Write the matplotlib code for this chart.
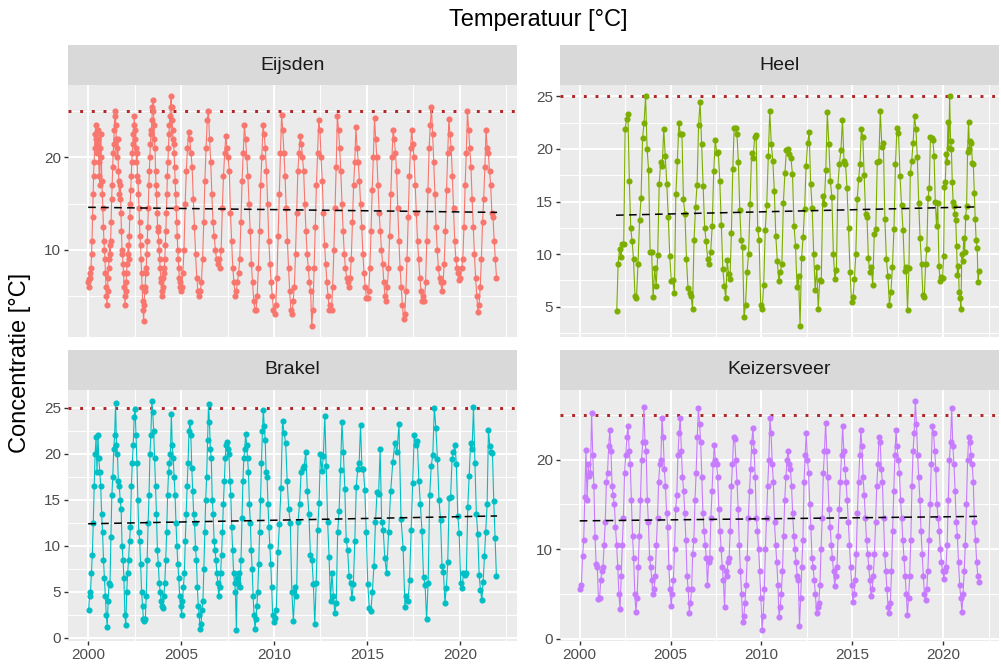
import numpy as np
import matplotlib.pyplot as plt
from matplotlib.ticker import MultipleLocator

plt.rcParams['font.family'] = ['Liberation Sans', 'DejaVu Sans']

stations = ['Eijsden', 'Heel', 'Brakel', 'Keizersveer']
colors = ['#F8766D', '#7CAE00', '#00BFC4', '#C77CFF']

# temperature readings per year (evenly spread within the year)
eijsden = {
    2000: [6.5, 6.0, 6.8, 7.5, 7.0, 8.0, 9.5, 11.0, 13.5, 16.0, 18.0, 19.5, 21.0, 22.5, 23.5, 22.0, 20.5, 21.5,
           23.0, 22.0, 19.5, 18.0, 17.0, 21.0, 22.5, 20.0, 17.5, 16.0, 14.5, 12.5, 11.0, 10.0, 9.0, 7.5, 6.0, 5.0],
    2001: [4.0, 5.5, 7.0, 8.0, 9.0, 10.5, 9.5, 11.0, 13.0, 15.5, 17.0, 19.0, 20.5, 21.5, 23.0, 24.5, 25.0, 23.5,
           22.0, 21.0, 20.0, 22.0, 18.5, 17.5, 16.0, 15.5, 17.0, 14.0, 12.0, 10.0, 9.5, 8.5, 7.5, 6.0, 5.0, 4.0],
    2002: [5.5, 6.5, 7.5, 8.5, 9.5, 10.5, 9.0, 11.5, 13.5, 15.0, 16.5, 18.0, 19.5, 20.5, 21.5, 22.5, 23.5, 24.5,
           23.0, 22.0, 21.0, 19.5, 20.5, 18.0, 17.5, 16.0, 14.5, 13.0, 11.5, 10.5, 9.0, 7.5, 6.0, 4.5, 3.5, 2.3],
    2003: [4.0, 5.5, 6.0, 7.5, 8.0, 9.5, 11.0, 12.5, 14.5, 17.0, 18.5, 20.0, 21.5, 22.5, 23.0, 24.0, 25.5, 26.2,
           25.0, 23.5, 22.0, 21.0, 18.5, 17.0, 16.0, 14.0, 12.5, 12.0, 11.0, 10.0, 9.0, 8.0, 7.0, 6.5, 5.5, 5.0],
    2004: [6.0, 7.0, 7.5, 8.0, 9.0, 10.5, 12.0, 14.0, 16.0, 18.0, 19.5, 21.0, 22.5, 23.5, 24.5, 25.5, 26.6, 25.5,
           24.0, 23.0, 22.0, 21.5, 20.5, 19.0, 17.5, 16.0, 14.5, 13.0, 11.5, 10.0, 9.0, 8.0, 7.0, 6.5, 6.0, 5.5],
    2005: [6.0, 7.5, 10.0, 15.0, 18.5, 21.0, 22.7, 22.0, 20.5, 19.0, 15.5, 12.5, 9.5, 7.0, 5.5, 5.0],
    2006: [5.5, 6.5, 9.0, 13.0, 17.5, 21.0, 24.0, 25.0, 22.0, 19.5, 16.0, 13.0, 11.5, 10.0, 9.0, 8.5],
    2007: [9.0, 8.0, 10.0, 14.5, 18.0, 20.5, 22.3, 21.0, 20.0, 18.5, 14.0, 11.0, 8.0, 6.5, 5.0, 5.5],
    2008: [6.5, 7.5, 9.0, 13.0, 17.5, 20.5, 23.5, 22.0, 20.0, 18.0, 15.0, 12.0, 8.5, 6.5, 4.5, 3.5],
    2009: [3.5, 5.0, 8.0, 12.0, 17.0, 20.0, 23.5, 22.5, 21.0, 18.5, 15.0, 11.0, 8.5, 6.5, 5.0, 3.5],
    2010: [3.0, 4.0, 7.0, 11.5, 16.0, 20.5, 24.6, 23.0, 20.5, 18.0, 14.5, 11.0, 8.0, 5.5, 3.5, 3.0],
    2011: [4.5, 6.0, 9.5, 14.0, 18.5, 20.5, 22.3, 21.5, 20.0, 18.5, 15.0, 12.0, 9.5, 8.0, 6.5, 5.5],
    2012: [1.8, 3.5, 8.0, 12.5, 17.0, 20.5, 24.0, 23.0, 20.0, 17.5, 14.0, 10.5, 8.5, 6.5, 5.0, 3.5],
    2013: [4.0, 3.5, 6.0, 10.0, 14.5, 19.0, 24.5, 23.0, 21.0, 18.5, 15.0, 12.0, 9.5, 8.0, 7.0, 6.5],
    2014: [6.0, 7.0, 9.0, 13.0, 17.0, 19.5, 23.3, 21.0, 19.5, 17.5, 15.0, 12.5, 9.5, 7.5, 6.0, 4.8],
    2015: [4.8, 5.5, 8.0, 12.0, 16.5, 20.0, 24.3, 22.0, 20.0, 17.0, 14.0, 12.0, 10.0, 8.5, 6.5, 5.0],
    2016: [4.5, 6.0, 8.0, 11.5, 16.0, 20.0, 23.0, 22.0, 20.5, 18.5, 14.5, 11.0, 8.0, 6.0, 4.0, 2.5],
    2017: [3.0, 5.5, 9.0, 13.5, 18.0, 21.0, 23.0, 21.5, 20.0, 17.0, 14.0, 11.0, 9.0, 7.0, 5.5, 4.5],
    2018: [5.0, 4.5, 6.5, 11.0, 16.5, 21.0, 23.5, 25.5, 22.5, 19.5, 16.0, 12.5, 10.0, 8.0, 7.0, 6.5],
    2019: [5.5, 6.5, 8.5, 12.0, 16.5, 20.5, 24.2, 22.5, 21.0, 18.0, 14.5, 11.0, 9.0, 8.0, 7.5, 6.7],
    2020: [7.0, 8.0, 9.0, 12.5, 17.0, 20.5, 25.0, 23.0, 21.0, 19.0, 15.5, 12.5, 9.5, 7.0, 5.0, 3.3],
    2021: [4.0, 6.0, 9.0, 13.0, 15.5, 19.0, 23.0, 21.0, 20.5, 18.5, 17.0, 14.0, 13.5, 11.0, 9.0, 7.0],
}

heel = {
    2002: [4.6, 9.1, 10.5, 9.7, 11.0, 11.0, 21.9, 22.9, 23.3, 17.0, 12.5, 11.2, 9.5],
    2003: [6.0, 5.8, 9.1, 13.2, 15.3, 21.0, 22.5, 25.0, 20.0, 18.0, 10.2, 10.2],
    2004: [5.9, 8.7, 7.0, 9.9, 16.7, 18.8, 18.4, 21.9, 19.3, 16.7, 13.5, 9.8],
    2005: [7.4, 7.5, 6.3, 15.7, 18.9, 22.5, 21.4, 21.4, 15.2, 13.8, 9.5, 6.8],
    2006: [6.3, 6.0, 4.8, 11.3, 14.5, 16.6, 22.3, 24.5, 20.5, 16.5, 12.5, 11.2],
    2007: [9.5, 9.1, 10.2, 12.7, 17.9, 20.9, 19.6, 19.7, 17.0, 12.8, 8.6, 7.0],
    2008: [5.8, 9.4, 8.1, 7.6, 12.0, 18.1, 22.0, 22.0, 21.4, 18.8, 14.2, 11.3, 10.7],
    2009: [4.0, 5.2, 8.3, 10.0, 14.8, 19.6, 19.1, 21.1, 21.3, 12.4, 11.3, 5.2],
    2010: [4.8, 7.1, 12.3, 14.7, 19.3, 23.6, 20.5, 18.9, 16.0, 11.7, 9.3, 7.4],
    2011: [8.3, 9.1, 14.9, 17.7, 19.9, 20.0, 19.5, 19.1, 17.6, 12.7, 10.8, 6.9],
    2012: [7.9, 3.2, 9.6, 11.6, 14.3, 18.4, 20.6, 21.6, 16.7, 14.4, 10.0, 6.6],
    2013: [8.8, 4.8, 7.5, 7.4, 15.5, 14.8, 18.0, 23.5, 20.5, 17.0, 15.4, 10.0],
    2014: [7.6, 8.5, 16.5, 18.6, 19.9, 22.8, 18.9, 18.6, 16.3, 12.5, 8.3, 5.4],
    2015: [5.9, 7.6, 10.0, 15.2, 17.1, 18.6, 21.9, 21.1, 17.5, 13.8, 13.5, 9.6, 8.3],
    2016: [8.8, 7.1, 11.9, 12.4, 18.8, 18.9, 23.6, 20.2, 20.6, 13.3, 9.5, 7.9],
    2017: [5.2, 6.4, 8.8, 12.4, 18.6, 22.0, 21.5, 17.4, 14.7, 12.3, 8.4, 8.8],
    2018: [4.7, 8.7, 17.7, 18.9, 20.6, 23.1, 21.9, 19.2, 14.9, 11.5, 9.1, 6.1, 5.9],
    2019: [9.1, 10.5, 15.3, 16.3, 21.1, 21.0, 20.9, 19.3, 15.0, 12.7, 14.9, 8.9, 7.4, 7.8, 7.7],
    2020: [9.8, 16.4, 16.9, 19.5, 18.8, 22.6, 20.1, 25.0, 20.8, 20.0, 16.9, 15.0, 14.6, 13.8, 13.2, 10.8, 8.0,
           8.9, 6.4, 5.8, 4.8],
    2021: [10.0, 9.3, 11.5, 10.2, 13.5, 14.6, 19.7, 22.6, 20.0, 20.8, 20.6, 18.7, 18.6, 15.8, 13.3, 11.3, 10.6,
           7.3, 8.4],
}

brakel = {
    2000: [3.0, 4.5, 5.0, 7.0, 9.0, 12.5, 16.5, 20.0, 21.8, 18.0, 22.1, 19.5, 18.0, 16.5, 13.5, 11.5, 8.5, 6.5, 4.5, 2.5],
    2001: [1.2, 4.0, 6.0, 5.8, 11.0, 15.5, 17.5, 20.5, 22.0, 25.5, 21.0, 20.0, 17.0, 16.5, 15.0, 14.0, 10.0, 8.5, 6.5, 2.5],
    2002: [1.4, 5.0, 7.0, 8.5, 10.5, 12.0, 16.5, 19.0, 21.0, 24.0, 24.9, 22.0, 19.0, 15.0, 11.5, 10.5, 8.0, 5.0, 3.5, 2.0],
    2003: [1.8, 2.0, 4.5, 8.5, 12.5, 15.5, 20.0, 22.0, 25.7, 24.5, 22.5, 19.5, 16.5, 13.5, 9.5, 8.0, 6.0, 5.0, 4.0, 3.5],
    2004: [3.2, 4.5, 6.0, 8.5, 11.5, 15.5, 18.0, 19.0, 20.0, 24.3, 21.0, 19.5, 17.5, 15.5, 12.5, 10.0, 8.0, 6.5, 4.5, 3.5],
    2005: [2.5, 4.0, 5.5, 7.0, 10.5, 13.5, 16.5, 19.0, 22.5, 23.5, 22.0, 18.5, 16.0, 13.5, 12.5, 9.8, 8.5, 5.5, 3.5, 2.5],
    2006: [1.0, 1.5, 3.0, 4.0, 7.5, 11.5, 15.0, 17.5, 21.5, 25.4, 23.5, 20.5, 19.5, 15.0, 13.5, 10.5, 9.5, 8.5, 7.0, 6.0],
    2007: [4.5, 5.5, 7.0, 9.0, 11.5, 14.5, 17.0, 19.5, 21.0, 21.3, 20.5, 20.0, 17.0, 15.5, 12.0, 9.5, 7.0, 6.0, 5.0, 0.9],
    2008: [6.5, 6.0, 7.0, 5.5, 8.5, 13.0, 17.0, 19.5, 20.5, 22.2, 21.0, 19.5, 18.0, 14.5, 12.5, 9.5, 7.5, 4.5, 2.5, 1.0],
    2009: [2.0, 3.5, 5.0, 8.0, 11.5, 15.0, 19.0, 22.5, 24.8, 23.0, 21.5, 18.0, 17.5, 14.5, 12.0, 10.0, 8.0, 5.5, 2.5, 1.7],
    2010: [2.2, 3.0, 9.3, 12.4, 16.3, 23.6, 22.3, 21.2, 17.0, 14.0, 12.5, 5.0],
    2011: [1.8, 5.5, 4.5, 12.6, 14.6, 18.0, 18.5, 18.7, 20.2, 16.0, 13.5, 9.0],
    2012: [8.5, 5.9, 1.5, 6.0, 11.7, 14.7, 20.0, 18.1, 19.8, 24.1, 18.7, 12.6, 8.8],
    2013: [4.0, 7.1, 4.5, 2.7, 3.8, 11.5, 13.8, 18.2, 23.5, 20.2, 16.2, 10.6, 9.5],
    2014: [6.7, 6.0, 4.3, 5.9, 10.5, 16.4, 18.3, 19.0, 23.1, 18.3, 18.3, 16.1, 11.5],
    2015: [5.9, 3.2, 2.9, 5.0, 7.8, 12.6, 15.8, 15.6, 20.5, 12.6, 11.7, 8.7],
    2016: [7.1, 11.5, 16.0, 19.1, 21.2, 20.2, 23.2, 12.9, 9.8],
    2017: [3.4, 4.5, 4.0, 6.3, 11.7, 16.8, 22.0, 21.0, 21.4, 17.1, 14.5, 11.6],
    2018: [6.6, 5.8, 2.0, 6.0, 15.5, 18.7, 19.9, 25.0, 22.8, 19.4, 15.0, 12.8],
    2019: [7.8, 7.2, 3.8, 5.4, 8.2, 15.2, 15.3, 19.4, 20.2, 21.0, 18.9, 13.3, 11.4],
    2020: [6.0, 5.4, 7.0, 6.8, 7.0, 14.2, 17.6, 21.2, 20.5, 25.1, 19.0, 13.5, 11.3],
    2021: [6.8, 5.2, 4.1, 6.1, 8.9, 11.5, 14.5, 22.6, 20.9, 20.2, 20.1, 14.9, 10.9, 6.7],
}

keizersveer = {
    2000: [5.5, 6.0, 9.2, 11.0, 15.8, 21.1, 15.5, 19.5, 18.2, 18.5, 25.2, 20.5, 17.0, 11.3, 8.3, 8.0],
    2001: [4.4, 4.5, 6.5, 7.5, 8.0, 10.5, 13.0, 17.5, 18.5, 21.5, 23.3, 21.0, 17.0, 16.0, 15.0, 12.5],
    2002: [10.5, 8.0, 5.0, 3.3, 7.0, 10.5, 13.5, 18.5, 20.5, 22.5, 23.8, 21.0, 19.5, 15.5, 11.5, 9.0],
    2003: [5.0, 3.0, 4.5, 8.0, 11.5, 15.5, 20.0, 22.0, 25.9, 22.0, 21.0, 15.5, 13.0, 9.0, 8.0, 6.5],
    2004: [5.0, 5.5, 7.0, 10.5, 13.5, 17.5, 19.5, 20.0, 24.7, 22.5, 19.0, 17.0, 14.0, 12.5, 8.0, 5.5],
    2005: [3.6, 5.0, 6.5, 10.0, 14.5, 16.0, 20.5, 23.0, 24.7, 21.0, 18.0, 16.5, 14.0, 11.0, 7.0, 5.5],
    2006: [2.9, 4.0, 5.5, 9.5, 11.0, 15.5, 18.5, 22.5, 25.8, 24.0, 22.0, 18.0, 14.0, 12.0, 10.5, 9.0],
    2007: [6.0, 8.5, 9.0, 13.5, 16.5, 19.5, 21.6, 20.0, 19.5, 18.0, 14.5, 12.0, 10.0, 8.0, 6.5, 3.5],
    2008: [7.5, 7.0, 8.5, 9.0, 12.0, 17.0, 19.5, 22.5, 22.3, 20.0, 17.5, 14.5, 10.5, 7.5, 5.0, 1.9],
    2009: [2.5, 4.0, 6.0, 9.0, 13.5, 16.5, 19.0, 22.0, 23.5, 21.0, 18.0, 13.5, 12.0, 10.0, 7.5, 4.5],
    2010: [1.0, 2.5, 5.5, 10.0, 13.5, 17.0, 20.0, 24.6, 23.0, 19.5, 17.5, 13.0, 10.5, 8.5, 6.0, 2.4],
    2011: [3.5, 5.0, 7.5, 11.5, 15.5, 18.0, 20.0, 21.0, 19.5, 19.0, 17.0, 14.0, 11.5, 10.0, 8.5, 7.0],
    2012: [6.5, 1.4, 4.5, 8.0, 11.0, 17.5, 20.5, 23.0, 20.0, 18.5, 15.0, 12.5, 9.0, 8.0, 6.5, 5.0],
    2013: [2.8, 3.5, 4.0, 6.0, 10.0, 13.5, 18.5, 21.0, 24.1, 21.0, 18.0, 14.5, 12.5, 10.5, 9.0, 7.5],
    2014: [5.9, 7.0, 8.0, 11.5, 14.5, 17.5, 20.5, 23.7, 21.0, 19.0, 17.5, 15.5, 13.0, 10.5, 8.0, 6.0],
    2015: [4.1, 5.0, 6.5, 9.5, 14.0, 17.5, 20.5, 23.3, 21.5, 18.0, 16.0, 13.5, 11.0, 9.5, 8.0, 6.5],
    2016: [4.8, 5.5, 7.0, 9.5, 13.0, 17.0, 19.5, 22.5, 22.0, 19.0, 17.5, 13.5, 9.5, 7.5, 5.5, 3.5],
    2017: [2.9, 4.0, 7.5, 12.0, 16.5, 20.5, 23.3, 21.5, 20.0, 18.5, 15.5, 13.5, 11.0, 9.0, 7.0, 5.0],
    2018: [2.6, 4.5, 7.0, 11.0, 17.0, 21.0, 23.0, 26.5, 24.0, 20.5, 18.0, 15.5, 12.0, 9.5, 7.0, 5.0],
    2019: [4.3, 5.5, 7.5, 11.0, 15.0, 19.5, 23.8, 23.0, 21.0, 19.0, 15.0, 13.5, 12.0, 10.0, 8.5, 7.5],
    2020: [6.7, 7.5, 8.0, 10.5, 15.5, 20.0, 22.0, 25.8, 21.5, 19.5, 16.5, 13.0, 11.5, 8.5, 6.0, 4.5],
    2021: [3.0, 5.0, 7.5, 10.5, 15.0, 20.0, 22.5, 22.0, 20.5, 19.5, 17.5, 13.0, 11.0, 8.5, 7.0, 6.3],
}

# trend lines (start/end year, start/end value)
trend_years = {'Eijsden': (2000.0, 2022.0), 'Heel': (2002.0, 2022.0),
               'Brakel': (2000.0, 2022.0), 'Keizersveer': (2000.0, 2022.0)}
trend_vals = {'Eijsden': (14.6, 14.05), 'Heel': (13.7, 14.5),
              'Brakel': (12.4, 13.25), 'Keizersveer': (13.15, 13.65)}

norm = 25  # norm line
yticks = {'Eijsden': [10, 20], 'Heel': [5, 10, 15, 20, 25],
          'Brakel': [0, 5, 10, 15, 20, 25], 'Keizersveer': [0, 10, 20]}
ytick_minor = {'Eijsden': 5, 'Heel': 2.5, 'Brakel': 2.5, 'Keizersveer': 5}
xticks = [2000, 2005, 2010, 2015, 2020]

data = {'Eijsden': eijsden, 'Heel': heel, 'Brakel': brakel, 'Keizersveer': keizersveer}


def to_series(d):
    xs, ys = [], []
    for yr, vals in d.items():
        n = len(vals)
        for i, v in enumerate(vals):
            xs.append(yr + (i + 0.5) / n)
            ys.append(v)
    return np.array(xs), np.array(ys)


series = {s: to_series(data[s]) for s in stations}
allx = np.concatenate([series[s][0] for s in stations])
xr = allx.max() - allx.min()
xlim = (allx.min() - 0.05 * xr, allx.max() + 0.05 * xr)

W, H = 1001, 671
fig = plt.figure(figsize=(W / 100, H / 100), dpi=100)

# panel boxes in pixels: left, right, strip top, panel top, panel bottom
boxes = [(68, 517, 45, 85, 337), (560, 999, 45, 85, 337),
         (68, 517, 350, 390, 641), (560, 999, 350, 390, 641)]

for k, s in enumerate(stations):
    l, r, st, pt, pb = boxes[k]
    ax = fig.add_axes([l / W, 1 - pb / H, (r - l) / W, (pb - pt) / H])
    sax = fig.add_axes([l / W, 1 - pt / H, (r - l) / W, (pt - st) / H])
    sax.set_facecolor('#D9D9D9')
    sax.set_xticks([])
    sax.set_yticks([])
    for sp in sax.spines.values():
        sp.set_visible(False)
    sax.text(0.5, 0.5, s, ha='center', va='center', fontsize=14, color='#1A1A1A',
             transform=sax.transAxes)

    x, y = series[s]
    ax.set_facecolor('#EBEBEB')
    ax.plot(x, y, '-o', color=colors[k], lw=0.8, ms=3.4, mec=colors[k], zorder=3)
    ax.plot(trend_years[s], trend_vals[s], color='black', lw=1.1, ls=(0, (5, 3.5)), zorder=4)
    ax.axhline(norm, color='#B22222', lw=2.1, ls=(0, (1, 3)), zorder=2)

    yr = y.max() - y.min()
    ax.set_ylim(y.min() - 0.05 * yr, y.max() + 0.05 * yr)
    ax.set_xlim(xlim)
    ax.set_xticks(xticks)
    ax.xaxis.set_minor_locator(MultipleLocator(2.5))
    ax.set_yticks(yticks[s])
    ax.yaxis.set_minor_locator(MultipleLocator(ytick_minor[s]))
    ax.grid(which='major', color='white', lw=1.4)
    ax.grid(which='minor', color='white', lw=0.7)
    ax.set_axisbelow(True)
    for sp in ax.spines.values():
        sp.set_visible(False)
    ax.tick_params(which='minor', length=0)
    ax.tick_params(axis='y', length=3.2, width=1, color='#333333', labelsize=11,
                   labelcolor='#4D4D4D', pad=2)
    if k < 2:
        ax.tick_params(axis='x', length=0, labelbottom=False)
    else:
        ax.tick_params(axis='x', length=3.2, width=1, color='#333333', labelsize=11,
                       labelcolor='#4D4D4D', pad=2)

fig.text(538 / W, 1 - 20 / H, 'Temperatuur [°C]', ha='center', va='center',
         fontsize=17, color='black')
fig.text(20 / W, 1 - 363 / H, 'Concentratie [°C]', ha='center', va='center',
         rotation=90, fontsize=17, color='black')

fig.savefig('out.png', dpi=100)
